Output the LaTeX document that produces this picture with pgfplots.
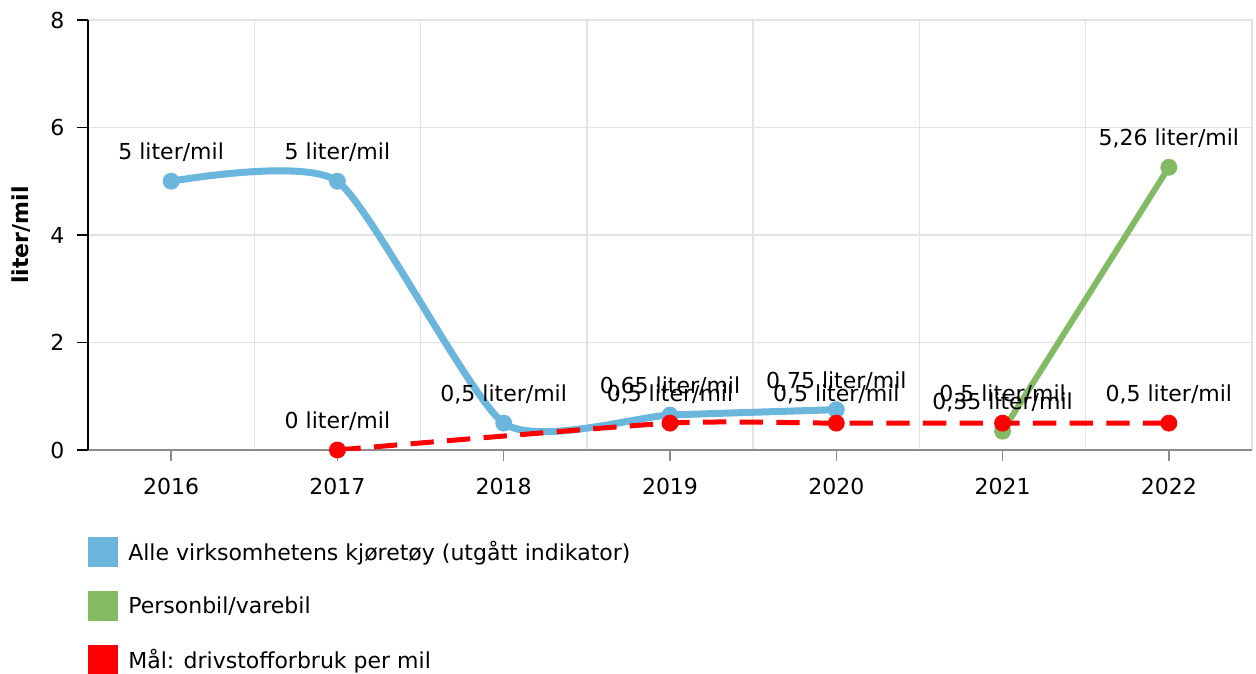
\documentclass[border=0pt]{standalone}
\usepackage{pgfplots}
\pgfplotsset{compat=1.18}
\usepackage{fontspec}
\setmainfont{DejaVu Sans}
\definecolor{blueline}{HTML}{6BB6DC}
\definecolor{greenline}{HTML}{83BA64}
\definecolor{gridgray}{HTML}{E3E3E3}
\begin{document}
\fontsize{13.2}{16}\selectfont
\begin{tikzpicture}
\begin{axis}[
  name=ax,
  scale only axis,
  width=698.4pt, height=258pt,
  xmin=2015.5, xmax=2022.5,
  ymin=0, ymax=8,
  xtick={2016,2017,2018,2019,2020,2021,2022},
  xticklabels={2016,2017,2018,2019,2020,2021,2022},
  ytick={0,2,4,6,8},
  minor xtick={2016.5,2017.5,2018.5,2019.5,2020.5,2021.5,2022.5},
  xminorgrids, ymajorgrids,
  grid style={gridgray, line width=0.8pt},
  minor tick length=0pt,
  major tick length=6.6pt,
  tick align=outside,
  axis x line*=bottom, axis y line*=left,
  x axis line style={black!45, line width=0.9pt},
  y axis line style={black, line width=0.8pt},
  x tick style={black!45, line width=0.8pt},
  y tick style={black, line width=0.8pt},
  /pgf/number format/assume math mode=true,
  tick label style={font=\fontsize{13.2}{16}\selectfont},
  xticklabel style={yshift=-5.5pt},
  yticklabel style={xshift=-3pt},
  ylabel={\bfseries liter/mil},
  ylabel style={at={(axis description cs:0,0.5)}, anchor=center, yshift=40pt},
  point meta=explicit symbolic,
  nodes near coords,
  every node near coord/.append style={anchor=base, yshift=13pt, text=black, font=\fontsize{13.2}{16}\selectfont},
  legend image code/.code={\fill[#1, draw=none, solid] (0pt,-9pt) rectangle (18pt,9pt);},
  legend cell align=left,
  legend style={at={(axis description cs:0,0)}, anchor=north west, yshift=-52.2pt,
    draw=none, fill=none, inner sep=0pt, row sep=14.4pt,
    font=\fontsize{13.2}{16}\selectfont,
    /tikz/every odd column/.append style={column sep=4pt}},
]
\addplot[blueline, line width=4.2pt, smooth, tension=0.35, mark=*, mark size=4.8pt, mark options={solid, line width=0.5pt}]
  coordinates {
    (2016,5)[5 liter/mil]
    (2017,5)[5 liter/mil]
    (2018,0.5)[0,5 liter/mil]
    (2019,0.65)[0,65 liter/mil]
    (2020,0.75)[0,75 liter/mil]
  };
\addlegendentry{Alle virksomhetens kjøretøy (utgått indikator)}
\addplot[greenline, line width=3.6pt, mark=*, mark size=4.8pt, mark options={solid, line width=0.5pt}]
  coordinates {
    (2021,0.35)[0,35 liter/mil]
    (2022,5.26)[5,26 liter/mil]
  };
\addlegendentry{Personbil/varebil}
\addplot[red, line width=3pt, dash pattern=on 14pt off 8pt, smooth, tension=0.35, mark=*, mark size=4.8pt, mark options={solid, line width=0.5pt}]
  coordinates {
    (2017,0)[0 liter/mil]
    (2019,0.5)[0,5 liter/mil]
    (2020,0.5)[0,5 liter/mil]
    (2021,0.5)[0,5 liter/mil]
    (2022,0.5)[0,5 liter/mil]
  };
\addlegendentry{Mål: drivstofforbruk per mil}
\end{axis}
\pgfresetboundingbox
\path[use as bounding box] ([xshift=-52.8pt, yshift=-133.8pt]ax.south west) rectangle ([xshift=2.4pt, yshift=12pt]ax.north east);
\end{tikzpicture}
\end{document}
